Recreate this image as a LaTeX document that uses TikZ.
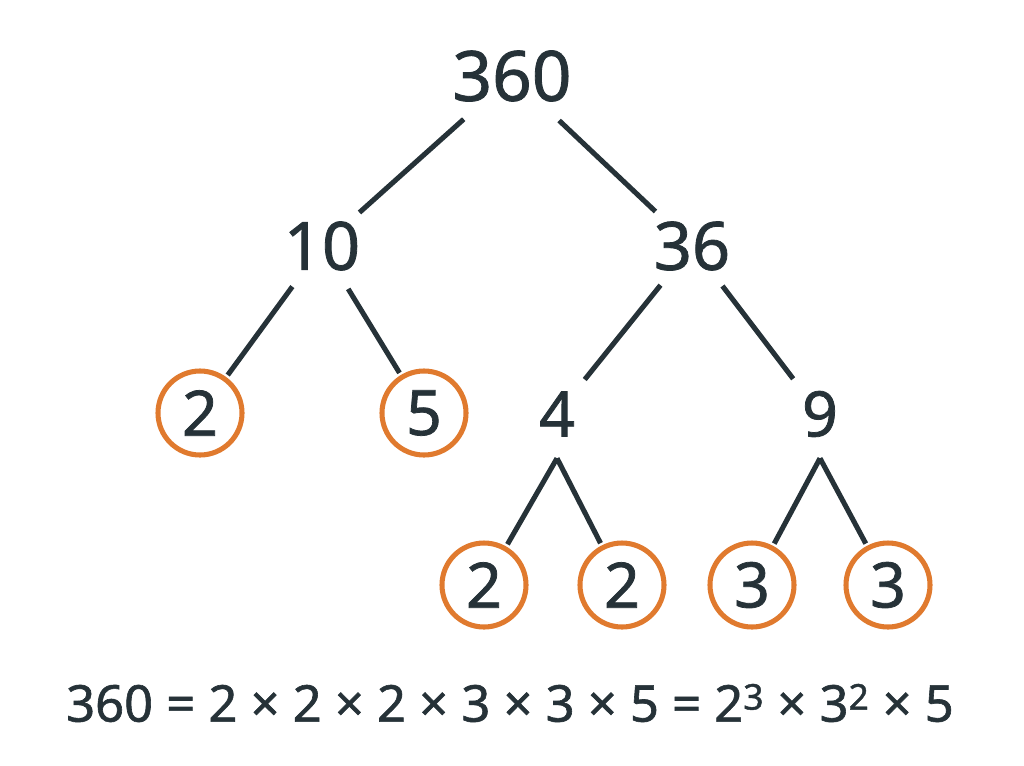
\documentclass[tikz,border=0pt]{standalone}
\usepackage{fontspec}
\setmainfont{Noto Sans}[FakeBold=1.2]
\newfontfamily\med{Noto Sans}[FakeBold=1.2]
\definecolor{ink}{HTML}{263238}
\definecolor{org}{HTML}{E07A2E}
\begin{document}
\begin{tikzpicture}[x=0.75pt,y=-0.75pt,
  big/.style={circle,inner sep=0pt,minimum size=120*0.75pt,text=ink,font=\med\bfseries\fontsize{52}{60}\selectfont},
  mid/.style={circle,inner sep=0pt,minimum size=100*0.75pt,text=ink,font=\med\bfseries\fontsize{50}{60}\selectfont},
  ring/.style={circle,draw=org,line width=3.8pt,inner sep=0pt,minimum size=84*0.75pt,text=ink,font=\med\bfseries\fontsize{47}{56}\selectfont,outer sep=5*0.75pt},
  leaf/.style={circle,inner sep=0pt,minimum size=88*0.75pt,text=ink,font=\med\bfseries\fontsize{47}{56}\selectfont},
  edge/.style={draw=ink,line width=3.8pt}]
\useasboundingbox (0,0) rectangle (1024,765);
\node[big] (a) at (512,76) {360};
\node[mid] (b) at (322,246) {10};
\node[mid] (c) at (692,246) {36};
\node[ring] (d) at (200,413) {2};
\node[ring] (e) at (424,413) {5};
\node[leaf] (f) at (557,414) {4};
\node[leaf] (g) at (820,414) {9};
\node[ring] (h) at (484,585) {2};
\node[ring] (i) at (622,585) {2};
\node[ring] (j) at (752,585) {3};
\node[ring] (k) at (888,585) {3};
\draw[edge] (a) -- (b); \draw[edge] (a) -- (c);
\draw[edge] (b) -- (d); \draw[edge] (b) -- (e);
\draw[edge] (c) -- (f); \draw[edge] (c) -- (g);
\draw[edge] (f.south) -- (h); \draw[edge] (f.south) -- (i);
\draw[edge] (g.south) -- (j); \draw[edge] (g.south) -- (k);
\node[text=ink,font=\med\bfseries\fontsize{38}{46}\selectfont] (eq) at (510,703) {360 = 2 × 2 × 2 × 3 × 3 × 5 = 2\textsuperscript{3} × 3\textsuperscript{2} × 5};
\end{tikzpicture}
\end{document}
